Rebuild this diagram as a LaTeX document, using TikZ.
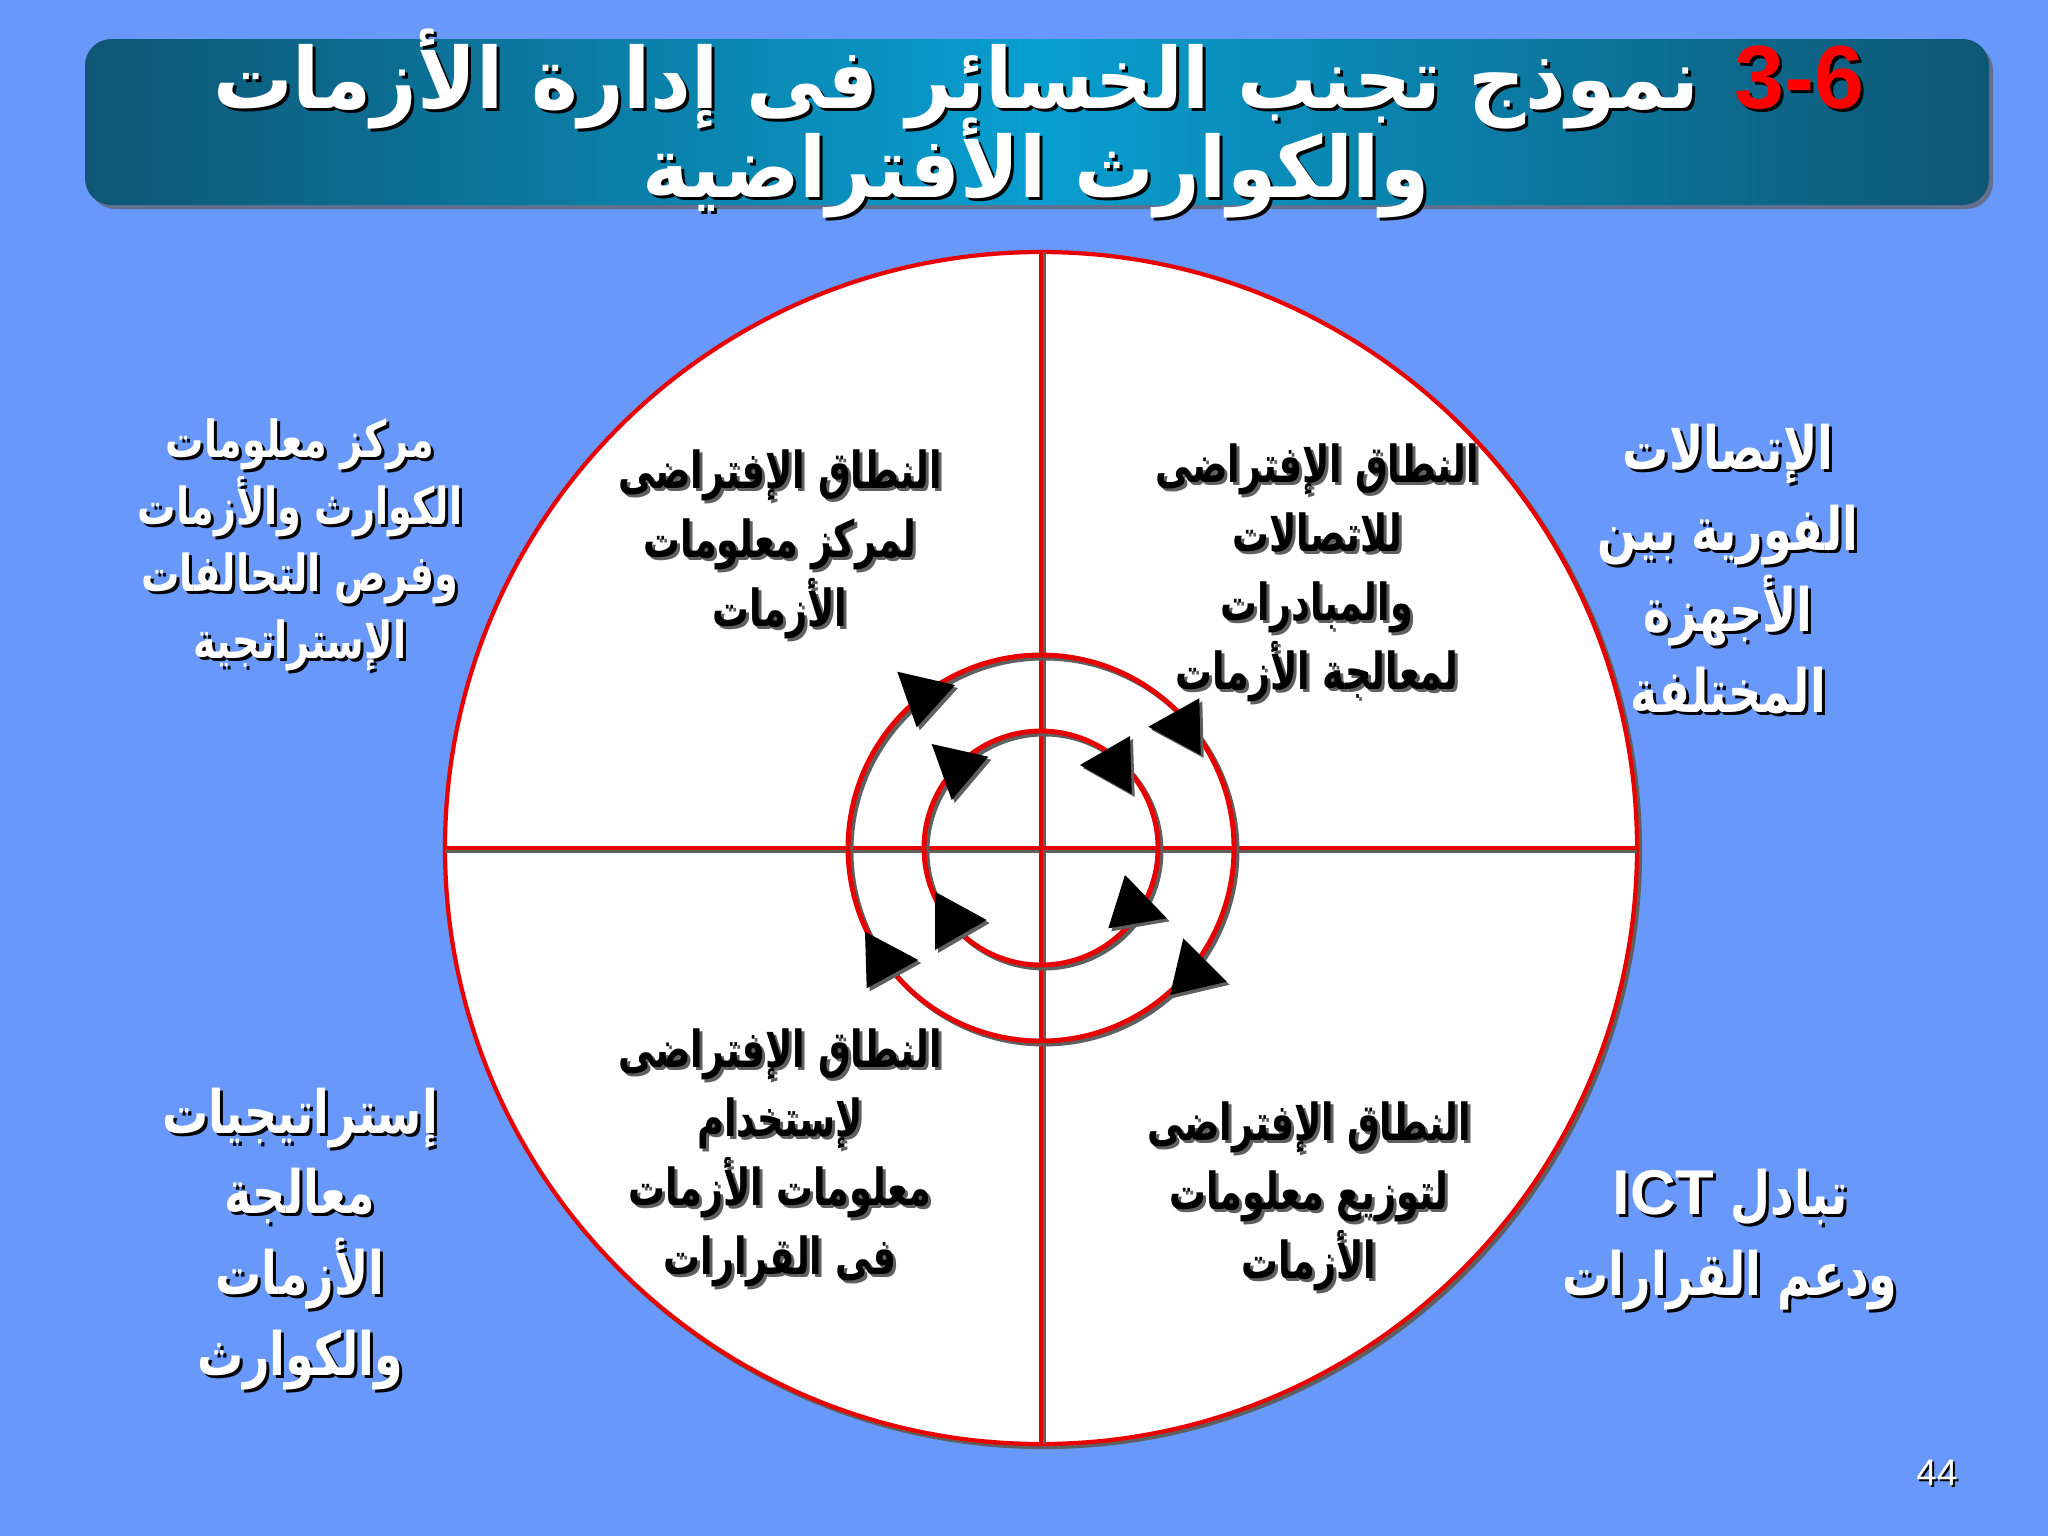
\documentclass[tikz,border=0pt]{standalone}
\usepackage{fontspec}
\setmainfont{Liberation Sans}
\newfontfamily\arQ[Script=Arabic,FakeStretch=0.72]{DejaVu Sans}
\newfontfamily\arS[Script=Arabic,FakeStretch=0.75]{DejaVu Sans}
\newfontfamily\arL[Script=Arabic,FakeStretch=0.77]{DejaVu Sans}
\newfontfamily\arT[Script=Arabic,FakeStretch=0.94]{DejaVu Sans}
\TeXXeTstate=1
\newcommand\AR[1]{\beginR #1\endR}
\definecolor{bgblue}{RGB}{104,153,250}
\definecolor{bandark}{RGB}{14,86,116}
\definecolor{banlight}{RGB}{8,158,208}
\definecolor{ringred}{RGB}{232,0,0}
\definecolor{shadowgray}{RGB}{95,95,95}
\definecolor{titlered}{RGB}{255,0,0}
\tikzset{
  qtext/.style={font=\arQ\bfseries\fontsize{14.5}{19.6}\selectfont, align=center, inner sep=0pt, text=black},
  sidesm/.style={font=\arS\bfseries\fontsize{14.5}{19}\selectfont, align=center, inner sep=0pt, text=white},
  sidelg/.style={font=\arL\bfseries\fontsize{17}{23}\selectfont, align=center, inner sep=0pt, text=white},
  titlear/.style={font=\arT\bfseries\fontsize{24}{26}\selectfont, inner sep=0pt, text=white, anchor=base east},
  titlear2/.style={font=\arT\bfseries\fontsize{24}{26}\selectfont, inner sep=0pt, text=white, anchor=base},
  titlenum/.style={font=\bfseries\fontsize{25.5}{27}\selectfont, inner sep=0pt, text=titlered, anchor=base east},
  pagenum/.style={font=\fontsize{10.5}{12}\selectfont, inner sep=0pt, text=white},
  ring/.style={draw=ringred, line width=1.2pt},
  ringshadow/.style={draw=shadowgray, line width=1.2pt},
}
\newcommand\stext[6]{%
  \node[#4, text=#5] (#1s) at ({#2+3},{#3+3}) {#6};
  \node[#4] (#1) at (#2,#3) {#6};
}
\newcommand\tri[6]{%
  \fill[shadowgray] ({#1+3},{#2+3}) -- ({#3+3},{#4+3}) -- ({#5+3},{#6+3}) -- cycle;
  \fill[black] (#1,#2) -- (#3,#4) -- (#5,#6) -- cycle;
}
\begin{document}
\begin{tikzpicture}[x=0.01cm, y=-0.01cm]
\useasboundingbox (0,0) rectangle (2048,1536);
\fill[bgblue] (0,0) rectangle (2048,1536);
% title banner
\fill[shadowgray!70!bgblue, rounded corners=7.5pt] (89,44) rectangle (1993,209);
\shade[rounded corners=7.5pt, left color=bandark, right color=bandark, middle color=banlight] (85,39) rectangle (1989,205);
\stext{tnum}{1865}{108}{titlenum}{black}{3-6}
\stext{tone}{1700}{108}{titlear}{black}{\AR{نموذج تجنب الخسائر فى إدارة الأزمات}}
\stext{ttwo}{1036}{197}{titlear2}{black}{\AR{والكوارث الأفتراضية}}
% outer circle
\draw[ringshadow] (1044,851) circle (596);
\fill[white] (1041,848) circle (596);
\draw[ring] (1041,848) circle (596);
% cross lines
\draw[shadowgray, line width=1pt] (1044,252) -- (1044,1444);
\draw[shadowgray, line width=1pt] (445,851) -- (1637,851);
\draw[ringred, line width=1pt] (1041,252) -- (1041,1444);
\draw[ringred, line width=1pt] (445,848) -- (1637,848);
% inner rings
\draw[shadowgray, line width=1.4pt] (1044,851) circle (193);
\draw[ringred, line width=1.4pt] (1041,848) circle (193);
\draw[shadowgray, line width=1.4pt] (1044,851) circle (117);
\draw[ringred, line width=1.4pt] (1041,848) circle (117);
% arrowheads
\tri{897.3}{671.7}{955}{685}{916.7}{727.3}
\tri{1148.3}{726.7}{1199.3}{698.3}{1200.7}{755}
\tri{865}{931.7}{918.3}{960}{866.7}{988.3}
\tri{1183.3}{938.3}{1226.7}{981.7}{1170}{995}
\tri{931.7}{744}{988.3}{756.7}{951.7}{800}
\tri{1080}{765}{1130}{736}{1131.7}{794}
\tri{935}{891.7}{986.7}{920}{935}{950}
\tri{1125}{875}{1166.7}{918.3}{1108.3}{928.3}
% quadrant texts
\stext{qa}{780}{544}{qtext}{shadowgray}{\AR{النطاق الإفتراضى}\\\AR{لمركز معلومات}\\\AR{الأزمات}}
\stext{qb}{1317}{573}{qtext}{shadowgray}{\AR{النطاق الإفتراضى}\\\AR{للاتصالات}\\\AR{والمبادرات}\\\AR{لمعالجة الأزمات}}
\stext{qc}{780}{1158}{qtext}{shadowgray}{\AR{النطاق الإفتراضى}\\\AR{لإستخدام}\\\AR{معلومات الأزمات}\\\AR{فى القرارات}}
\stext{qd}{1309}{1196}{qtext}{shadowgray}{\AR{النطاق الإفتراضى}\\\AR{لتوزيع معلومات}\\\AR{الأزمات}}
% side texts
\stext{sa}{300}{545}{sidesm}{black}{\AR{مركز معلومات}\\\AR{الكوارث والأزمات}\\\AR{وفرص التحالفات}\\\AR{الإستراتجية}}
\stext{sb}{1728}{569}{sidelg}{black}{\AR{الإتصالات}\\\AR{الفورية بين}\\\AR{الأجهزة}\\\AR{المختلفة}}
\stext{sc}{300}{1239}{sidelg}{black}{\AR{إستراتيجيات}\\\AR{معالجة}\\\AR{الأزمات}\\\AR{والكوارث}}
\stext{sd}{1730}{1240}{sidelg}{black}{\AR{تبادل \beginL{\rmfamily\bfseries\fontsize{18}{23}\selectfont ICT}\endL}\\\AR{ودعم القرارات}}
% page number
\node[pagenum, text=black] (pgs) at (1939,1475) {44};
\node[pagenum] (pg) at (1937,1473) {44};
\end{tikzpicture}
\end{document}
